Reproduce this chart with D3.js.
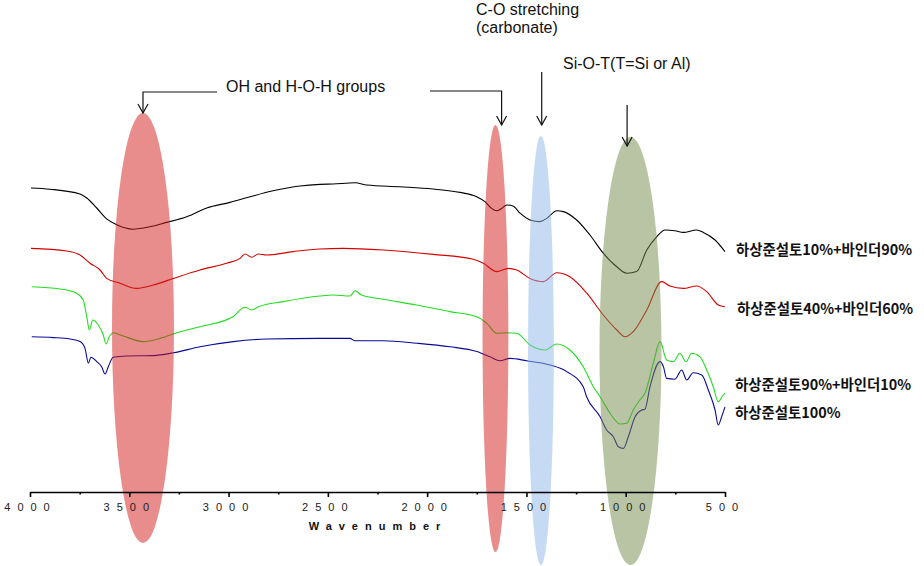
<!DOCTYPE html>
<html>
<head>
<meta charset="utf-8">
<script src="https://cdn.jsdelivr.net/npm/d3@7"></script>
<style>
  html, body { margin: 0; padding: 0; background: #fff; }
  svg { display: block; }
</style>
</head>
<body>
<svg id="chart" width="924" height="566"></svg>
<script>
// ---------- DATA ----------
// Each spectrum: [wavenumber (cm-1), relative transmittance (arbitrary units)]
const seriesNames = ["하상준설토10%+바인더90%", "하상준설토40%+바인더60%", "하상준설토90%+바인더10%", "하상준설토100%"];

const spec10 = [
  [3995,76.0],[3899,75.7],[3748,74.5],[3714,73.5],[3664,71.0],[3614,68.3],[3563,66.8],[3481,65.7],
  [3396,66.3],[3312,67.4],[3211,68.8],[3110,71.0],[2993,72.4],[2892,73.8],[2776,75.3],[2640,76.5],
  [2539,76.9],[2474,77.0],[2363,77.3],[2304,76.75],[2137,76.3],[1970,75.75],[1835,74.9],[1750,73.8],
  [1709,72.6],[1675,70.9],[1650,70.3],[1625,70.9],[1599,71.75],[1568,71.5],[1532,69.7],[1482,68.0],
  [1432,67.6],[1398,68.4],[1347,70.3],[1314,70.1],[1247,68.0],[1180,64.25],[1113,59.7],[1045,56.3],
  [995,54.7],[945,55.1],[894,60.5],[844,63.8],[802,65.5],[752,65.3],[710,64.9],[643,65.5],
  [609,64.9],[550,63.0],[500,60.1]
];

const spec40 = [
  [3995,60.9],[3815,60.25],[3748,59.25],[3698,57.2],[3647,55.5],[3614,53.4],[3547,52.2],[3463,50.9],
  [3379,51.75],[3278,53.4],[3144,55.5],[3009,57.2],[2942,58.4],[2917,59.5],[2884,58.7],[2850,59.5],
  [2808,59.25],[2674,60.1],[2540,60.75],[2422,60.9],[2221,60.5],[1969,59.4],[1768,58.2],[1717,57.2],
  [1650,55.1],[1591,55.9],[1549,55.5],[1482,53.4],[1415,52.6],[1347,54.8],[1281,53.8],[1196,49.7],
  [1113,44.25],[1045,40.5],[1003,38.8],[962,40.1],[894,45.5],[819,52.6],[777,51.5],[710,50.9],
  [643,51.5],[592,50.1],[534,46.75],[500,46.3]
];

const spec90 = [
  [3991,51.3],[3849,50.75],[3765,49.7],[3732,48.0],[3714,43.8],[3701,40.5],[3684,43.0],[3656,41.75],
  [3631,39.25],[3617,37.0],[3601,38.8],[3581,39.8],[3530,39.0],[3430,37.6],[3345,38.4],[3261,39.8],
  [3144,41.3],[2978,43.8],[2917,46.2],[2884,45.5],[2850,46.3],[2724,47.6],[2540,49.0],[2473,49.25],
  [2388,49.0],[2363,50.3],[2330,49.25],[2221,48.2],[2053,46.75],[1885,45.1],[1750,43.8],[1700,42.2],
  [1650,39.7],[1599,39.8],[1549,39.7],[1482,36.75],[1406,35.5],[1347,37.0],[1281,35.5],[1214,31.3],
  [1163,26.3],[1129,23.8],[1079,19.7],[1029,17.0],[995,17.2],[962,20.5],[929,23.0],[903,24.7],
  [861,32.2],[827,37.6],[794,33.0],[760,32.6],[727,34.7],[696,32.6],[668,34.7],[626,33.8],
  [592,30.5],[559,26.3],[534,22.6],[509,24.25],[500,24.7]
];

const spec100 = [
  [3991,38.8],[3883,38.6],[3799,38.25],[3748,37.6],[3723,35.9],[3706,32.2],[3693,33.7],[3664,32.6],
  [3639,31.3],[3622,29.5],[3606,31.3],[3581,33.7],[3513,34.0],[3379,34.1],[3278,34.8],[3144,36.3],
  [2976,37.6],[2808,38.25],[2540,38.4],[2389,38.4],[2363,37.8],[2221,37.8],[2053,37.2],[1885,36.3],
  [1750,35.1],[1683,33.8],[1633,32.8],[1583,33.4],[1499,32.8],[1381,31.75],[1297,30.1],[1214,26.3],
  [1197,23.8],[1129,18.8],[1096,15.5],[1062,13.8],[1037,11.3],[1012,10.9],[987,13.8],[953,18.8],
  [920,20.5],[903,20.7],[878,26.3],[827,32.6],[810,31.3],[794,28.4],[752,28.2],[718,30.5],
  [693,28.0],[660,29.8],[617,29.25],[584,25.5],[550,20.5],[534,16.75],[517,18.8],[500,21.3]
];

const majorTicks = [4000, 3500, 3000, 2500, 2000, 1500, 1000, 500];
const minorTicks = [3750, 3250, 2750, 2250, 1750, 1250, 750];
const xTitle = "Wavenumber";

// highlighted absorption bands: center wavenumber, half-width, top/bottom extent (y units)
const bandCenters = [3431, 1656, 1427, 976];
const bandHalfWidths = [156, 65, 65, 156];
const bandTops = [94.75, 91.75, 89, 88.75];
const bandBottoms = [-12.75, -15, -18.25, -18.25];

const annotationTexts = ["OH and H-O-H groups", "C-O stretching", "(carbonate)", "Si-O-T(T=Si or Al)"];

// ---------- STYLE ----------
const lineColors = ["#000000", "#d40000", "#22dd22", "#0a0a96"];
const bandColors = ["#d11919", "#d11919", "#8db7e7", "#73894a"];

// ---------- CHART ----------
const svg = d3.select("#chart");
const x = d3.scaleLinear().domain([4000, 500]).range([30, 725]);
const y = d3.scaleLinear().domain([0, 100]).range([492, 92]);

const line = d3.line()
  .x(d => x(d[0]))
  .y(d => y(d[1]))
  .curve(d3.curveMonotoneX);

const allSeries = [spec10, spec40, spec90, spec100];

svg.append("g").selectAll("path")
  .data(allSeries)
  .join("path")
  .attr("d", line)
  .attr("fill", "none")
  .attr("stroke", (d, i) => lineColors[i])
  .attr("stroke-width", 1.1);

// bands drawn on top, translucent
svg.append("g").selectAll("ellipse")
  .data(bandCenters)
  .join("ellipse")
  .attr("cx", d => x(d))
  .attr("rx", (d, i) => Math.abs(x(d + bandHalfWidths[i]) - x(d)))
  .attr("cy", (d, i) => (y(bandTops[i]) + y(bandBottoms[i])) / 2)
  .attr("ry", (d, i) => (y(bandBottoms[i]) - y(bandTops[i])) / 2)
  .attr("fill", (d, i) => bandColors[i])
  .attr("fill-opacity", 0.5);

// ---------- AXIS ----------
const axisG = svg.append("g").attr("transform", "translate(0,492)");
axisG.call(d3.axisBottom(x).tickValues(majorTicks).tickSize(5).tickSizeOuter(0).tickFormat(d3.format("d")));
axisG.select(".domain").attr("stroke", "#000").attr("stroke-width", 1.6);
axisG.selectAll(".tick line").attr("stroke", "#000").attr("stroke-width", 1.6);
axisG.selectAll(".tick text")
  .attr("y", 11)
  .attr("font-family", "'Liberation Sans', Arial, sans-serif")
  .attr("font-size", 11)
  .attr("letter-spacing", "7px")
  .attr("fill", "#222");

const minorG = svg.append("g").attr("transform", "translate(0,492)");
minorG.call(d3.axisBottom(x).tickValues(minorTicks).tickSize(2.5).tickSizeOuter(0).tickFormat(""));
minorG.select(".domain").remove();
minorG.selectAll(".tick line").attr("stroke", "#000").attr("stroke-width", 1.6);

svg.append("text")
  .attr("x", 378)
  .attr("y", 530)
  .attr("text-anchor", "middle")
  .attr("font-family", "'Liberation Sans', Arial, sans-serif")
  .attr("font-weight", "bold")
  .attr("font-size", 11)
  .attr("letter-spacing", "7px")
  .attr("fill", "#111")
  .text(xTitle);

// ---------- SERIES LABELS ----------
const labelPos = [[736, 255], [737, 314], [735, 390], [735, 418]];
svg.append("g").selectAll("text")
  .data(seriesNames)
  .join("text")
  .attr("x", (d, i) => labelPos[i][0])
  .attr("y", (d, i) => labelPos[i][1])
  .attr("font-family", "'Noto Sans CJK KR', 'Noto Sans', sans-serif")
  .attr("font-weight", "bold")
  .attr("font-size", 14.4)
  .attr("fill", "#111")
  .text(d => d);

// ---------- ANNOTATIONS ----------
const ann = svg.append("g")
  .attr("font-family", "'Liberation Sans', Arial, sans-serif")
  .attr("font-size", 16)
  .attr("fill", "#111");

ann.append("text").attr("x", 226).attr("y", 92).text(annotationTexts[0]);
ann.append("text").attr("x", 476).attr("y", 14.5).text(annotationTexts[1]);
ann.append("text").attr("x", 476).attr("y", 33).text(annotationTexts[2]);
ann.append("text").attr("x", 563).attr("y", 69).text(annotationTexts[3]);

function arrowPath(points) {
  return d3.line()(points);
}
function arrowHead(xp, yp) {
  return d3.line()([[xp - 5, yp - 9], [xp, yp], [xp + 5, yp - 9]]);
}
const aStroke = "#111";
const ax1 = x(bandCenters[0]);
const ax2 = x(1625);
const ax3 = x(1423);
const ax4 = x(993);
const arrows = [
  { pts: [[217, 92], [ax1, 92], [ax1, 113]], head: [ax1, 113] },
  { pts: [[430, 91], [ax2, 91], [ax2, 125]], head: [ax2, 125] },
  { pts: [[ax3, 72], [ax3, 125]], head: [ax3, 125] },
  { pts: [[ax4, 105], [ax4, 146]], head: [ax4, 146] }
];
arrows.forEach(a => {
  ann.append("path").attr("d", arrowPath(a.pts)).attr("fill", "none").attr("stroke", aStroke).attr("stroke-width", 1.2);
  ann.append("path").attr("d", arrowHead(a.head[0], a.head[1])).attr("fill", "none").attr("stroke", aStroke).attr("stroke-width", 1.2);
});
</script>
</body>
</html>
